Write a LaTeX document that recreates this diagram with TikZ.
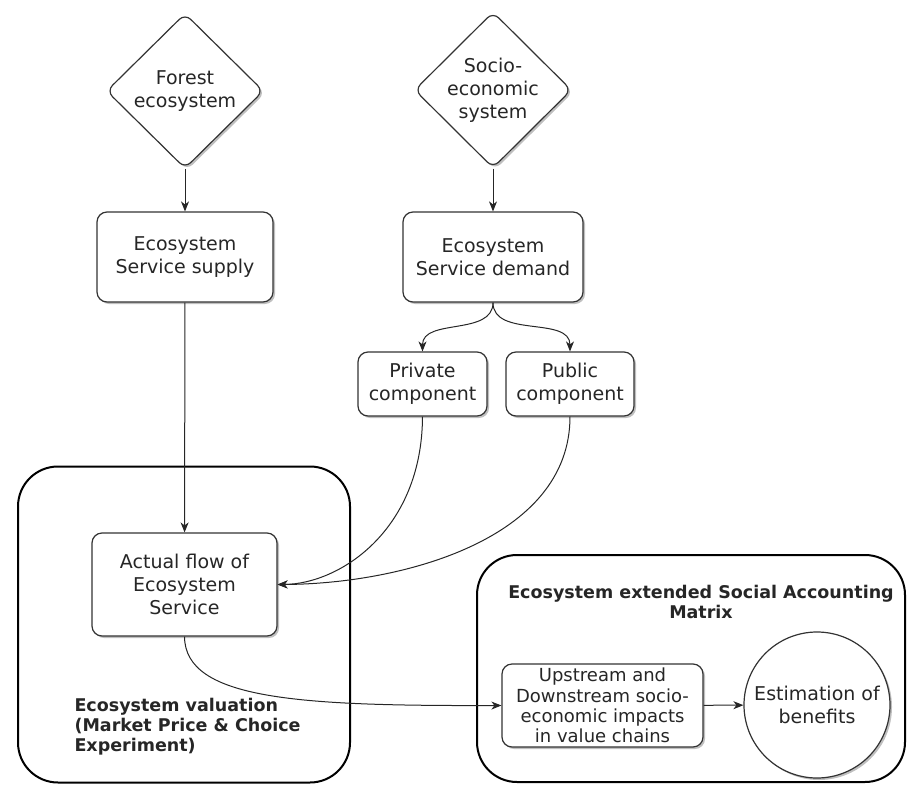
\documentclass[tikz,border=0pt]{standalone}
\usepackage{fontspec}
\setmainfont{DejaVu Sans}
\usetikzlibrary{shapes.geometric,arrows.meta,shadows}
\begin{document}
\begin{tikzpicture}[x=1pt,y=-1pt,
  every node/.style={font=\fontsize{19}{23}\selectfont, text=black!85},
  shad/.style={drop shadow={opacity=0.25,shadow xshift=2pt,shadow yshift=-2pt,fill=black}},
  box/.style={draw=black!80, line width=1.2pt, rounded corners=10pt, fill=white, shad, align=center, inner sep=0pt},
  dia/.style={draw=black!80, line width=1.2pt, diamond, rounded corners=8pt, fill=white, shad, align=center, inner sep=0pt, minimum width=157pt, minimum height=155pt},
  bigbox/.style={draw=black, line width=2pt, rounded corners=40pt, inner sep=0pt},
  conn/.style={draw=black!85, line width=1pt, -{Stealth[length=10pt,width=8pt,inset=3pt]}},
  ttl/.style={font=\bfseries\fontsize{17.5}{20}\selectfont}
]
\useasboundingbox (0,0) rectangle (907,784);

% containers
\node[bigbox, minimum width=332pt, minimum height=316pt] (valbox) at (184,624.5) {};
\node[bigbox, minimum width=428pt, minimum height=227pt] (sambox) at (691,668.5) {};

% top diamonds
\node[dia] (forest) at (185,91) {Forest\\ecosystem};
\node[dia] (socio) at (493,90) {Socio-\\economic\\system};

% boxes
\node[box, minimum width=176pt, minimum height=90pt] (supply) at (185,257) {Ecosystem\\Service supply};
\node[box, minimum width=180pt, minimum height=90pt] (demand) at (493,257) {Ecosystem\\Service demand};
\node[box, minimum width=129pt, minimum height=64pt] (private) at (422.5,384) {Private\\component};
\node[box, minimum width=128pt, minimum height=64pt] (public) at (570,384) {Public\\component};
\node[box, minimum width=185pt, minimum height=103pt] (actual) at (184.5,584.5) {Actual flow of\\Ecosystem\\Service};
\node[box, minimum width=201pt, minimum height=83pt, font=\fontsize{18}{20.3}\selectfont] (upstream) at (602.5,705.5) {Upstream and\\Downstream socio-\\economic impacts\\in value chains};
\node[draw=black!80, line width=1.2pt, circle, fill=white, shad, minimum size=146pt, inner sep=0pt, align=center] (benefits) at (817,705) {Estimation of\\benefits};

% labels
\node[ttl, align=center] (samtitle) at (701,602) {Ecosystem extended Social Accounting\\Matrix};
\node[ttl, align=left, anchor=west] (valtitle) at (71,727) {Ecosystem valuation\\(Market Price \& Choice\\Experiment)};

% connectors
\draw[conn] (forest) -- (supply);
\draw[conn] (socio) -- (demand);
\draw[conn] (supply) -- (actual);
\draw[conn] (demand.south) to[out=-90,in=90] (private.north);
\draw[conn] (demand.south) to[out=-90,in=90] (public.north);
\draw[conn] (private.south) .. controls (422,530) and (340,584) .. (actual.east);
\draw[conn] (public.south) .. controls (570,540) and (400,584) .. (actual.east);
\draw[conn] (actual.south) .. controls (185,700) and (300,706) .. (upstream.west);
\draw[conn] (upstream) -- (benefits);
\end{tikzpicture}
\end{document}
